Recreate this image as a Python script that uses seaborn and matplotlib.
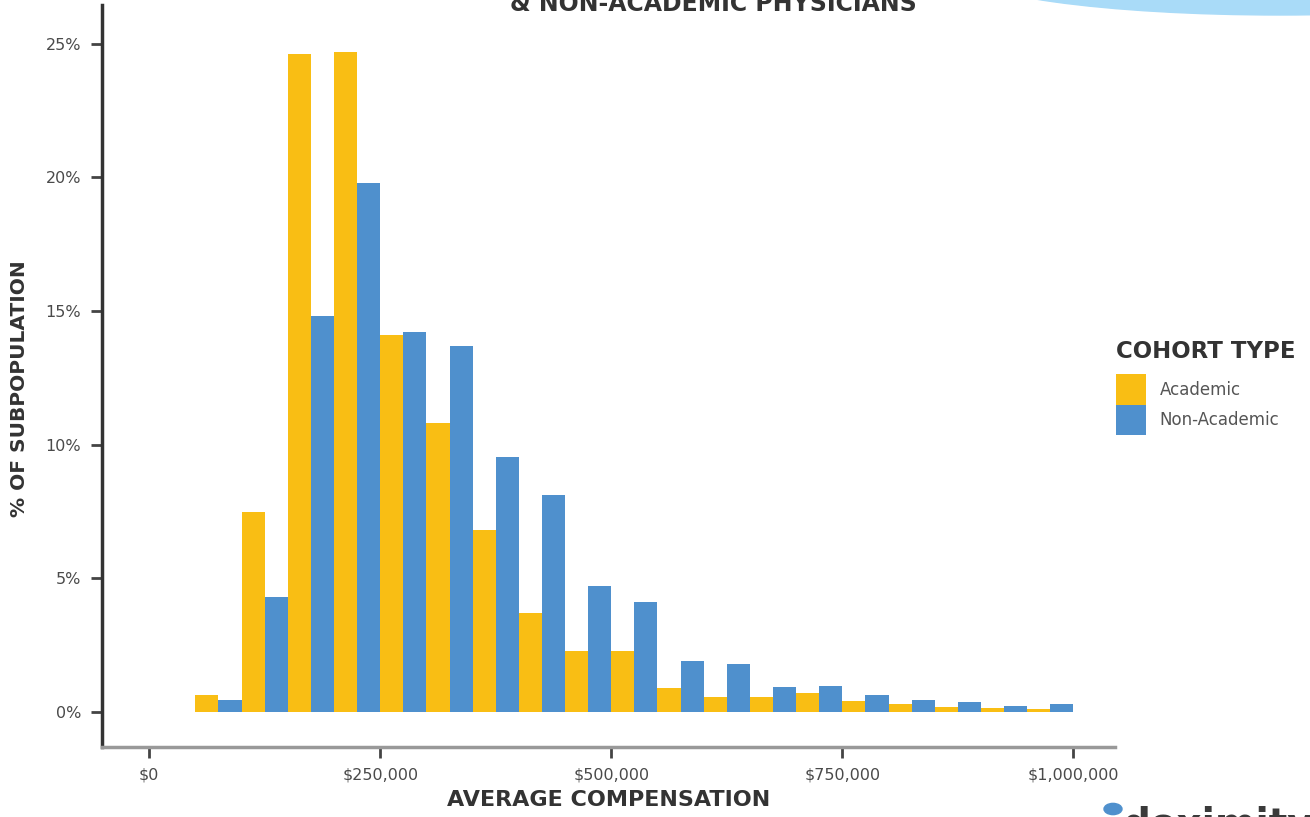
import matplotlib
matplotlib.use("Agg")
import matplotlib.pyplot as plt
from matplotlib.patches import Ellipse, Circle
import seaborn as sns
import numpy as np
import pandas as pd

# bin starts, 50k wide
bin_start = [50000, 100000, 150000, 200000, 250000, 300000, 350000, 400000,
             450000, 500000, 550000, 600000, 650000, 700000, 750000, 800000,
             850000, 900000, 950000]
academic = [0.64, 7.5, 24.6, 24.7, 14.1, 10.8, 6.8, 3.7, 2.3, 2.3,
            0.9, 0.57, 0.57, 0.7, 0.41, 0.29, 0.19, 0.16, 0.11]
non_academic = [0.45, 4.3, 14.8, 19.8, 14.2, 13.7, 9.55, 8.1, 4.7, 4.1,
                1.9, 1.8, 0.95, 0.97, 0.64, 0.45, 0.36, 0.24, 0.31]
cohorts = ["Academic", "Non-Academic"]
colors = ["#F9BE14", "#4F90CD"]
xticks = [0, 250000, 500000, 750000, 1000000]
xtick_labels = ["$0", "$250,000", "$500,000", "$750,000", "$1,000,000"]
yticks = [0, 5, 10, 15, 20, 25]
ytick_labels = ["0%", "5%", "10%", "15%", "20%", "25%"]

df = pd.DataFrame({
    "comp": [b + 25000 for b in bin_start] * 2,
    "pct": academic + non_academic,
    "cohort": [cohorts[0]] * len(bin_start) + [cohorts[1]] * len(bin_start),
})
edges = bin_start + [bin_start[-1] + 50000]

sns.set_style("white")
plt.rcParams["font.family"] = ["DejaVu Sans"]

fig = plt.figure(figsize=(13.1, 8.17), dpi=100)
ax = fig.add_axes([102 / 1310, 1 - 747 / 817, (1115 - 102) / 1310, (747 - 5) / 817])

sns.histplot(data=df, x="comp", weights="pct", hue="cohort", hue_order=cohorts,
             bins=edges, multiple="dodge", shrink=1, palette=colors,
             alpha=1, linewidth=0, ax=ax)

ax.set_xlim(-51000, 1045000)
ax.set_ylim(-1.31, 26.45)
ax.set_xticks(xticks)
ax.set_xticklabels(xtick_labels)
ax.set_yticks(yticks)
ax.set_yticklabels(ytick_labels)
ax.tick_params(axis="both", length=8, width=2, color="#444444",
               labelsize=11.5, labelcolor="#4a4a4a", pad=7, left=True, bottom=True)
for s in ["top", "right"]:
    ax.spines[s].set_visible(False)
ax.spines["left"].set_color("#333333")
ax.spines["left"].set_linewidth(2.5)
ax.spines["bottom"].set_color("#999999")
ax.spines["bottom"].set_linewidth(2.5)
ax.set_xlabel("AVERAGE COMPENSATION", fontsize=16, fontweight="bold",
              color="#333333", labelpad=5)
ax.set_ylabel("% OF SUBPOPULATION", fontsize=14.5, fontweight="bold",
              color="#333333")
ax.yaxis.set_label_coords(-0.072, 0.4825)

sns.move_legend(ax, "upper left", bbox_to_anchor=(1108 / 1310, 1 - 332 / 817),
                bbox_transform=fig.transFigure, frameon=False,
                title="COHORT TYPE", fontsize=12, handlelength=1.8,
                handleheight=2.4, handletextpad=0.8, labelspacing=0.0,
                borderpad=0, alignment="left")
leg = ax.get_legend()
leg.get_title().set_fontsize(16.5)
leg.get_title().set_fontweight("bold")
leg.get_title().set_color("#333333")
leg._legend_box.sep = 8
for t in leg.get_texts():
    t.set_color("#555555")

# cut-off title line at the top
fig.text(713 / 1310, 1 - 11 / 817, "& NON-ACADEMIC PHYSICIANS", ha="center",
         va="baseline", fontsize=17, fontweight="bold", color="#333333")

# decorative shape top right and logo at bottom right
fig.patches.append(Ellipse((1280 / 1310, 1 + 30 / 817), 640 / 1310, 90 / 817,
                           transform=fig.transFigure, color="#A9DBF8", zorder=0))
fig.patches.append(Circle((1113 / 1310, 1 - 809 / 817), 9 / 1310,
                          transform=fig.transFigure, color="#4F90CD"))
fig.text(1122 / 1310, 1 - 836 / 817, "doximity", ha="left", va="baseline",
         fontsize=28, fontweight="bold", color="#3a3a3a")

fig.savefig("out.png", dpi=100)
